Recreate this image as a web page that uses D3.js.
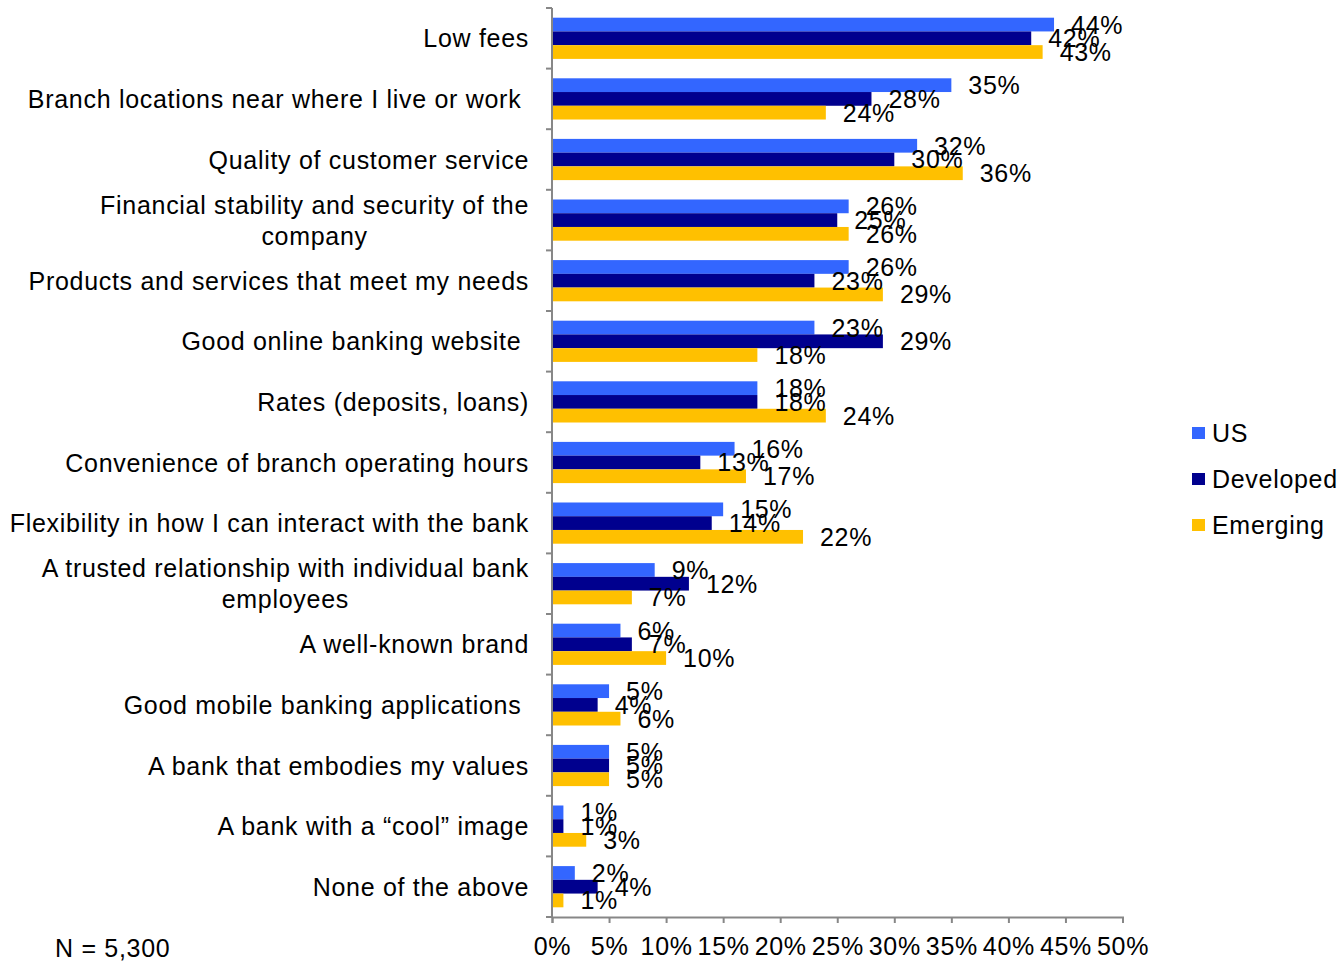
<!DOCTYPE html>
<html>
<head>
<meta charset="utf-8">
<script src="https://cdn.jsdelivr.net/npm/d3@7"></script>
<style>
  html, body { margin: 0; padding: 0; background: #fff; }
  svg text { font-family: "Liberation Sans", Arial, Helvetica, sans-serif; fill: #000; letter-spacing: 0.7px; }
</style>
</head>
<body>
<svg id="chart" width="1338" height="962"></svg>
<script>
// Reasons for choosing a bank, share of respondents by market
const categories = [
  "Low fees",
  "Branch locations near where I live or work ",
  "Quality of customer service",
  "Financial stability and security of the\ncompany",
  "Products and services that meet my needs",
  "Good online banking website ",
  "Rates (deposits, loans)",
  "Convenience of branch operating hours",
  "Flexibility in how I can interact with the bank",
  "A trusted relationship with individual bank\nemployees",
  "A well-known brand",
  "Good mobile banking applications ",
  "A bank that embodies my values",
  "A bank with a \u201ccool\u201d image",
  "None of the above"
];
const seriesNames = ["US", "Developed", "Emerging"];
const usValues        = [44, 35, 32, 26, 26, 23, 18, 16, 15, 9, 6, 5, 5, 1, 2];
const developedValues = [42, 28, 30, 25, 23, 29, 18, 13, 14, 12, 7, 4, 5, 1, 4];
const emergingValues  = [43, 24, 36, 26, 29, 18, 24, 17, 22, 7, 10, 6, 5, 3, 1];
const xTicks = [0, 5, 10, 15, 20, 25, 30, 35, 40, 45, 50];
const footnote = "N = 5,300";

const seriesColors = ["#3366FF", "#00008E", "#FFC000"];
const seriesValues = [usValues, developedValues, emergingValues];

const rows = categories.map((c, i) => ({
  category: c,
  values: seriesNames.map((s, j) => ({ series: s, value: seriesValues[j][i] }))
}));

const svg = d3.select("#chart");
const plot = { left: 552, right: 1122.5, top: 8, bottom: 917 };
const fontSize = 25;
const axisColor = "#878787";

const x = d3.scaleLinear().domain([0, 50]).range([plot.left, plot.right]);
const y = d3.scaleBand().domain(categories).range([plot.top, plot.bottom])
  .paddingInner(0.32).paddingOuter(0.16);
const ySub = d3.scaleBand().domain(seriesNames).range([0, y.bandwidth()]);
const color = d3.scaleOrdinal().domain(seriesNames).range(seriesColors);

// Bars
const groups = svg.append("g").selectAll("g")
  .data(rows).join("g")
  .attr("transform", d => `translate(0,${y(d.category)})`);

groups.selectAll("rect")
  .data(d => d.values).join("rect")
  .attr("x", x(0))
  .attr("y", d => ySub(d.series))
  .attr("width", d => x(d.value) - x(0))
  .attr("height", ySub.bandwidth())
  .attr("fill", d => color(d.series));

// Value labels
groups.selectAll("text")
  .data(d => d.values).join("text")
  .attr("x", d => x(d.value) + 17)
  .attr("y", d => ySub(d.series) + ySub.bandwidth() / 2)
  .attr("dy", "0.36em")
  .attr("font-size", fontSize)
  .text(d => d.value + "%");

// Y axis: line with tick marks at category boundaries
const yAxis = svg.append("g");
yAxis.append("line")
  .attr("x1", plot.left).attr("x2", plot.left)
  .attr("y1", plot.top).attr("y2", plot.bottom)
  .attr("stroke", axisColor).attr("stroke-width", 2);
const step = y.step();
yAxis.selectAll("line.tick")
  .data(d3.range(categories.length + 1)).join("line")
  .attr("class", "tick")
  .attr("x1", plot.left - 6).attr("x2", plot.left)
  .attr("y1", i => plot.top + i * step).attr("y2", i => plot.top + i * step)
  .attr("stroke", axisColor).attr("stroke-width", 2);

// Category labels: right-aligned block, multi-line labels centered within it
const labelRight = 529;
const lineHeight = 31;
categories.forEach(c => {
  const lines = c.split("\n");
  const cy = y(c) + y.bandwidth() / 2;
  const t = svg.append("text")
    .attr("font-size", fontSize)
    .style("white-space", "pre");
  if (lines.length === 1) {
    t.attr("x", labelRight).attr("y", cy).attr("dy", "0.36em")
      .attr("text-anchor", "end").text(c);
  } else {
    const spans = lines.map((ln, k) => t.append("tspan")
      .attr("y", cy + (k - (lines.length - 1) / 2) * lineHeight)
      .attr("dy", "0.36em").text(ln));
    const widths = spans.map(s => s.node().getComputedTextLength());
    const maxW = d3.max(widths);
    const cx = labelRight - maxW / 2;
    spans.forEach(s => s.attr("x", cx));
    t.attr("text-anchor", "middle");
  }
});

// X axis
const xAxis = d3.axisBottom(x)
  .tickValues(xTicks)
  .tickFormat(d => d + "%")
  .tickSize(6)
  .tickPadding(14);
const gx = svg.append("g")
  .attr("transform", `translate(0,${plot.bottom})`)
  .call(xAxis);
gx.select(".domain").attr("stroke", axisColor).attr("stroke-width", 2);
gx.selectAll(".tick line").attr("stroke", axisColor).attr("stroke-width", 2);
gx.selectAll(".tick text")
  .attr("font-size", fontSize)
  .attr("font-family", "'Liberation Sans', Arial, sans-serif")
  .attr("fill", "#000");

// Legend
const legend = svg.append("g").attr("transform", "translate(1192,433)");
const legendItems = legend.selectAll("g")
  .data(seriesNames).join("g")
  .attr("transform", (d, i) => `translate(0,${i * 46})`);
legendItems.append("rect")
  .attr("x", 0).attr("y", -6).attr("width", 13).attr("height", 12)
  .attr("fill", d => color(d));
legendItems.append("text")
  .attr("x", 20).attr("y", 0).attr("dy", "0.36em")
  .attr("font-size", fontSize)
  .text(d => d);

// Sample size note
svg.append("text")
  .attr("x", 55).attr("y", 948).attr("dy", "0.36em")
  .attr("font-size", fontSize)
  .text(footnote);
</script>
</body>
</html>
